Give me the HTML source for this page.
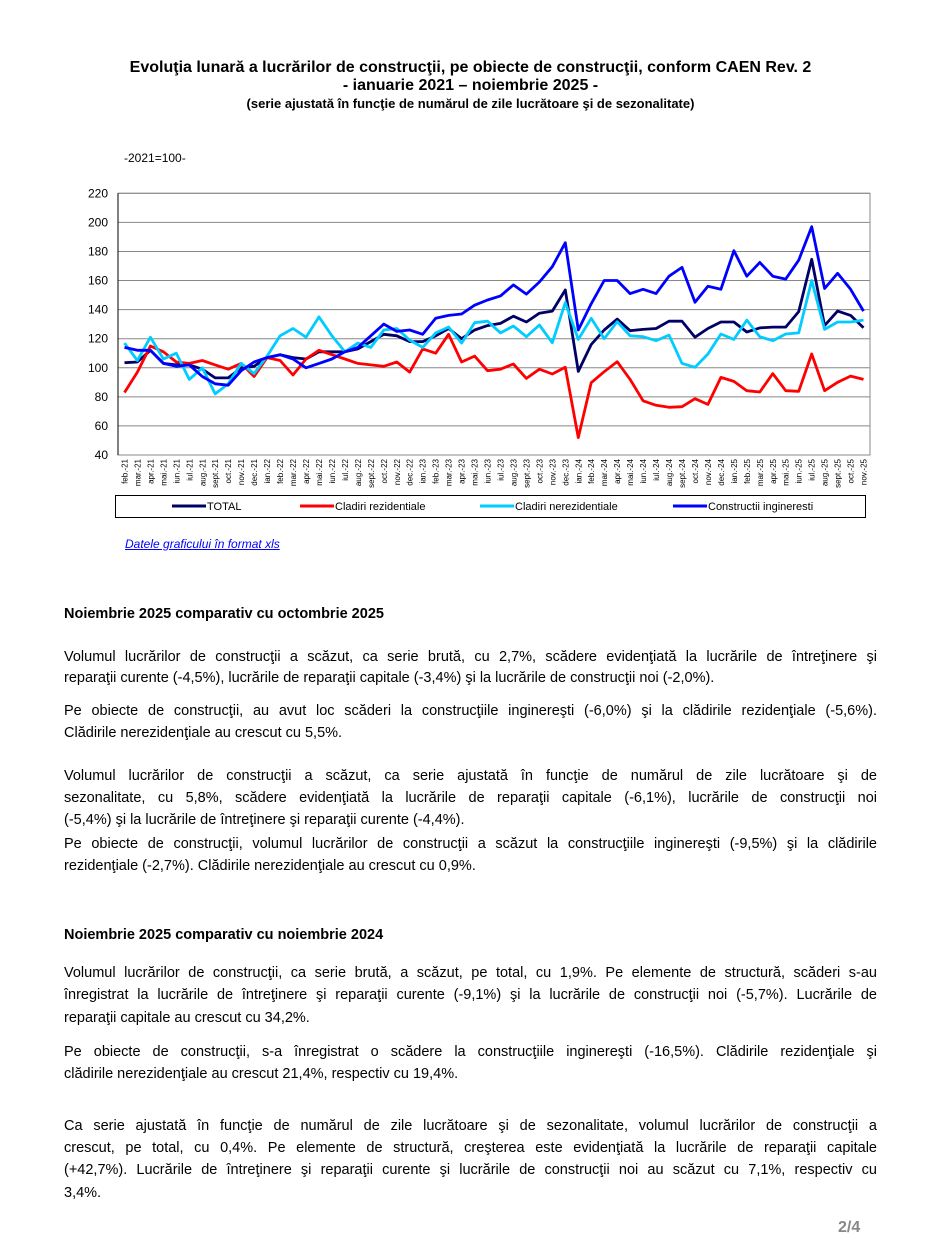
<!DOCTYPE html>
<html><head><meta charset="utf-8">
<style>
body{margin:0;background:#fff;width:941px;height:1253px;position:relative;font-family:"Liberation Sans",sans-serif;color:#000;overflow:hidden}
.t{position:absolute;left:0;width:941px;text-align:center;font-weight:bold}
.l{position:absolute;left:64px;width:813px;font-size:14.5px;line-height:19px;height:19px;overflow:hidden;white-space:nowrap}
.j{text-align:justify;text-align-last:justify;white-space:normal}
.h{font-weight:bold}
</style></head><body>
<div class="t" style="top:59px;font-size:16px">Evoluţia lunară a lucrărilor de construcţii, pe obiecte de construcţii, conform CAEN Rev. 2</div>
<div class="t" style="top:77px;font-size:16px">- ianuarie 2021 – noiembrie 2025 -</div>
<div class="t" style="top:96px;font-size:13px">(serie ajustată în funcţie de numărul de zile lucrătoare şi de sezonalitate)</div>
<div style="position:absolute;left:124px;top:151px;font-size:12px">-2021=100-</div>
<svg id="ch" style="position:absolute;left:0;top:0" width="941" height="560"></svg>
<div style="position:absolute;left:125px;top:537px;font-size:12px;font-style:italic;color:#00f;text-decoration:underline">Datele graficului în format xls</div>

<div class="l h" style="top:605px">Noiembrie 2025 comparativ cu octombrie 2025</div>
<div class="l j" style="top:648px">Volumul lucrărilor de construcţii a scăzut, ca serie brută, cu 2,7%, scădere evidenţiată la lucrările de întreţinere şi</div>
<div class="l" style="top:669px">reparaţii curente (-4,5%), lucrările de reparaţii capitale (-3,4%) şi la lucrările de construcţii noi (-2,0%).</div>
<div class="l j" style="top:702px">Pe obiecte de construcţii, au avut loc scăderi la construcţiile inginereşti (-6,0%) şi la clădirile rezidenţiale (-5,6%).</div>
<div class="l" style="top:724px">Clădirile nerezidenţiale au crescut cu 5,5%.</div>
<div class="l j" style="top:767px">Volumul lucrărilor de construcţii a scăzut, ca serie ajustată în funcţie de numărul de zile lucrătoare şi de</div>
<div class="l j" style="top:789px">sezonalitate, cu 5,8%, scădere evidenţiată la lucrările de reparaţii capitale (-6,1%), lucrările de construcţii noi</div>
<div class="l" style="top:811px">(-5,4%) şi la lucrările de întreţinere şi reparaţii curente (-4,4%).</div>
<div class="l j" style="top:835px">Pe obiecte de construcţii, volumul lucrărilor de construcţii a scăzut la construcţiile inginereşti (-9,5%) şi la clădirile</div>
<div class="l" style="top:857px">rezidenţiale (-2,7%). Clădirile nerezidenţiale au crescut cu 0,9%.</div>

<div class="l h" style="top:926px">Noiembrie 2025 comparativ cu noiembrie 2024</div>
<div class="l j" style="top:964px">Volumul lucrărilor de construcţii, ca serie brută, a scăzut, pe total, cu 1,9%. Pe elemente de structură, scăderi s-au</div>
<div class="l j" style="top:986px">înregistrat la lucrările de întreţinere şi reparaţii curente (-9,1%) şi la lucrările de construcţii noi (-5,7%). Lucrările de</div>
<div class="l" style="top:1009px">reparaţii capitale au crescut cu 34,2%.</div>
<div class="l j" style="top:1043px">Pe obiecte de construcţii, s-a înregistrat o scădere la construcţiile inginereşti (-16,5%). Clădirile rezidenţiale şi</div>
<div class="l" style="top:1065px">clădirile nerezidenţiale au crescut 21,4%, respectiv cu 19,4%.</div>
<div class="l j" style="top:1117px">Ca serie ajustată în funcţie de numărul de zile lucrătoare şi de sezonalitate, volumul lucrărilor de construcţii a</div>
<div class="l j" style="top:1139px">crescut, pe total, cu 0,4%. Pe elemente de structură, creşterea este evidenţiată la lucrările de reparaţii capitale</div>
<div class="l j" style="top:1161px">(+42,7%). Lucrările de întreţinere şi reparaţii curente şi lucrările de construcţii noi au scăzut cu 7,1%, respectiv cu</div>
<div class="l" style="top:1184px">3,4%.</div>
<div style="position:absolute;left:838px;top:1219px;font-size:16px;font-weight:bold;color:#888">2/4</div>

<script>
var svg=document.getElementById('ch');
var NS='http://www.w3.org/2000/svg';
function el(n,a,t){var e=document.createElementNS(NS,n);for(var k in a)e.setAttribute(k,a[k]);if(t)e.textContent=t;svg.appendChild(e);return e;}
var X0=118,X1=870,Y220=193.3,Y40=455;
function Y(v){return Y40-(v-40)*(Y40-Y220)/180;}
var N=58,st=(X1-X0)/N;
function X(i){return X0+st*(i+0.5);}
for(var v=40;v<=220;v+=20){
 el('line',{x1:X0,x2:X1,y1:Y(v),y2:Y(v),stroke:v==40?'#000':'#888','stroke-width':1});
 el('text',{x:108,y:Y(v)+4,'font-size':12,'text-anchor':'end','font-family':'Liberation Sans'},String(v));
}
el('rect',{x:X0,y:Y220,width:X1-X0,height:Y40-Y220,fill:'none',stroke:'#888'});
el('line',{x1:X0,x2:X0,y1:Y220,y2:Y40,stroke:'#000'});
var mo=['ian','feb','mar','apr','mai','iun','iul','aug','sept','oct','nov','dec'];
for(var i=0;i<N;i++){var m=(i+1)%12,yr=21+Math.floor((i+1)/12);
 var x=X(i)+3;el('text',{x:x,y:459,'font-size':8,'text-anchor':'end','font-family':'Liberation Sans',transform:'rotate(-90 '+x+' 459)'},mo[m]+'.-'+yr);}
var tot=[103.5,104,112,103,102,102,99,93,93,100,101,107,109,107,106,111,111,111,113,118,123,122,118,118,122,127,120,126,129,130.5,135.5,131.5,137.5,139,153.5,97.5,116,126,133.5,125.5,126.4,127,132,132,121,127,131.5,131.5,124.6,127.4,128,128,138.6,174.6,129,139,136,127.5];
var rez=[83,97,115,111,104,103,105,102,99,103,94,107,105,95,106,112,109,106,103,102,101,104,97,113,110,123,104,108,98,99,102.6,92.7,99,95.7,100.3,52,89.7,97.3,104.2,92,77.3,74.2,72.8,73.2,78.7,74.8,93.4,90.6,84.2,83.3,96,84.2,83.8,109.5,84.2,90,94.3,92];
var nez=[117,105,121,106,110,92,100,82,89,103,96,108,122,127,121,135,122,111,117,114,126,127,119,114,124,128,117,131,132,124,128.7,121.4,129.4,117.2,144.8,119.5,134,120,131.7,122,121.4,118.6,122.5,103,100.3,109.5,123.2,119.5,132.8,121.4,118.6,123.2,124,160,126.4,131.5,131.5,132.8];
var ing=[114,112,112,103,101,102,94,89,88,98,104,107,109,106,100,103,106,111,114,122,130,125,126,123,134,136,137,143,146.6,149.4,157,150.7,159,169.5,186,126,144,160,160,151,154,151,163,169,145,156,154,180.5,163,172.5,163,161,174,197,154.5,165,154,139];
function line(d,c){el('polyline',{points:d.map(function(v,i){return X(i).toFixed(1)+','+Y(v).toFixed(1)}).join(' '),fill:'none',stroke:c,'stroke-width':2.8,'stroke-linejoin':'round'});}
line(tot,'#000066');line(rez,'#ff0000');line(nez,'#00ccff');line(ing,'#0000ff');
el('rect',{x:115.5,y:495.5,width:750,height:22,fill:'none',stroke:'#000'});
var lg=[[172,'#000066','TOTAL'],[300,'#ff0000','Cladiri rezidentiale'],[480,'#00ccff','Cladiri nerezidentiale'],[673,'#0000ff','Constructii ingineresti']];
lg.forEach(function(a){el('line',{x1:a[0],x2:a[0]+34,y1:506,y2:506,stroke:a[1],'stroke-width':3});
 el('text',{x:a[0]+35,y:510,'font-size':11,'font-family':'Liberation Sans'},a[2]);});
</script>
</body></html>
